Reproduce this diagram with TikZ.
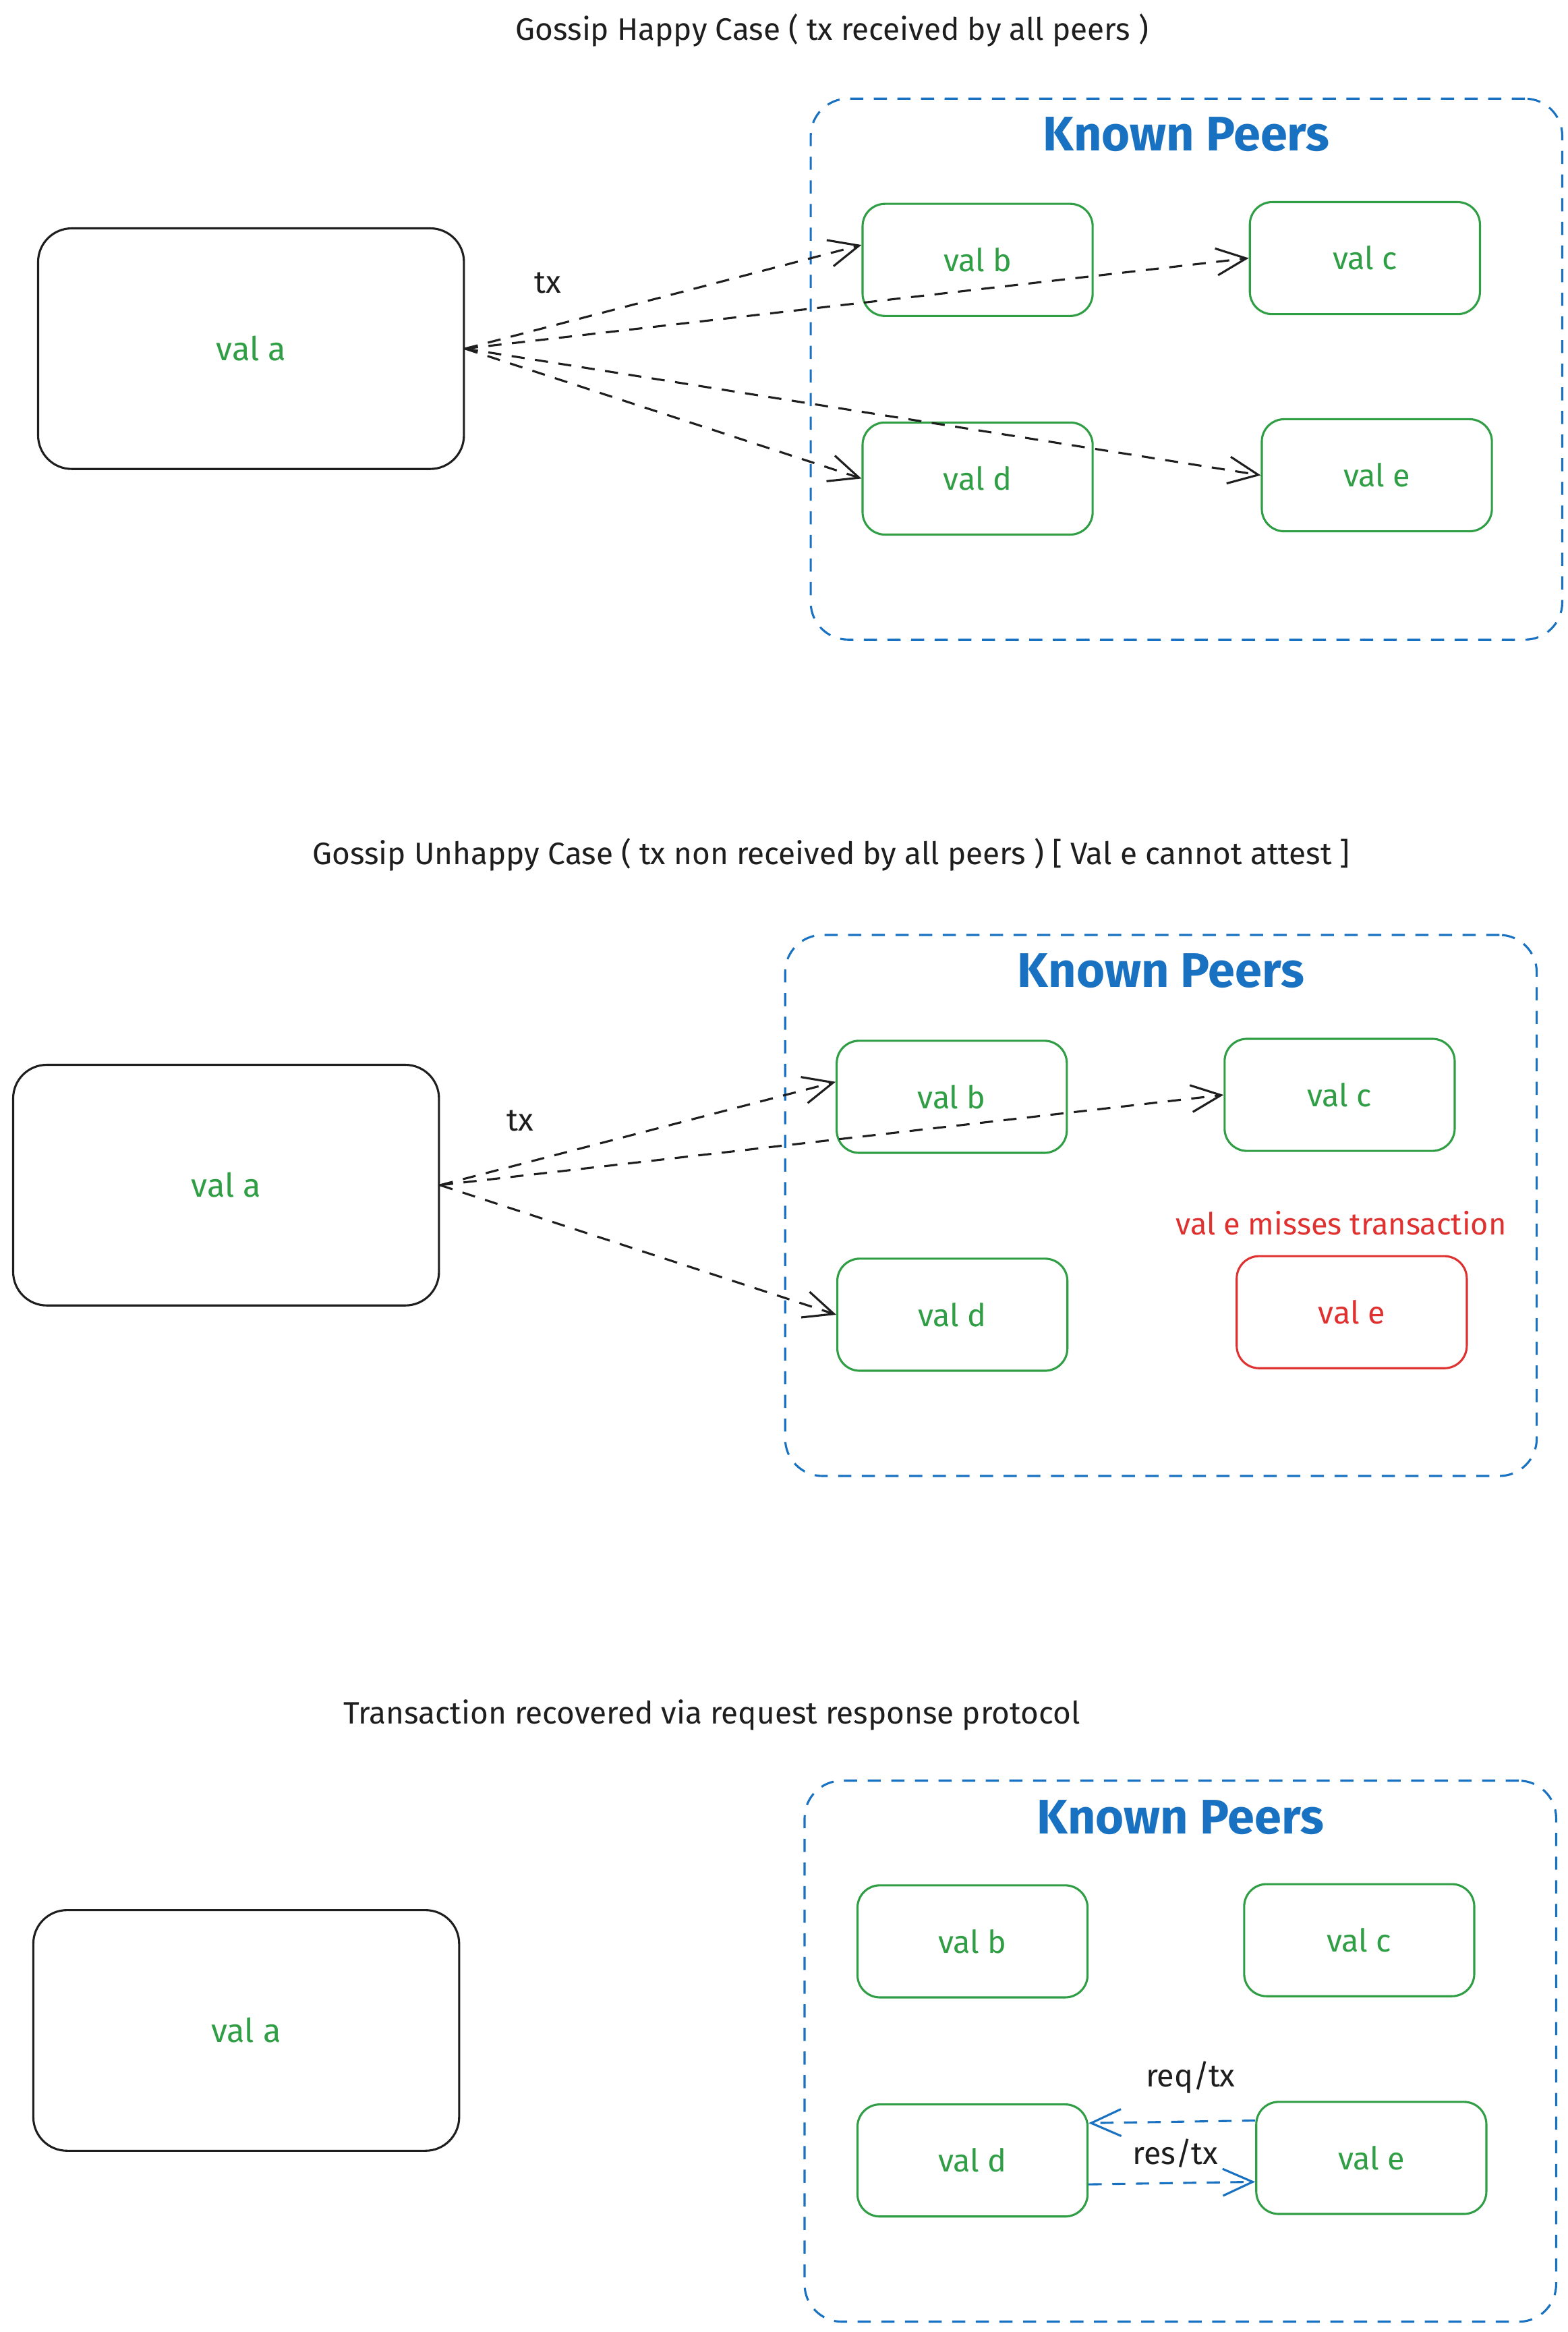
\documentclass[tikz,border=0pt]{standalone}
\usepackage{fontspec}
\setmainfont{Fira Sans}
\usetikzlibrary{arrows.meta}
\definecolor{peerblue}{HTML}{1971C2}
\definecolor{okgreen}{HTML}{2F9E44}
\definecolor{failred}{HTML}{E03131}
\definecolor{ink}{HTML}{1E1E1E}
\begin{document}
\begin{tikzpicture}[x=0.2mm,y=-0.2mm,
peer/.style={rectangle,draw,thick,rounded corners=3mm,color=okgreen,
minimum width=30.8mm,
minimum height=15mm,font=\fontsize{12}{14}\selectfont},
sender/.style={rectangle,draw=ink,thick,rounded corners=4.5mm,text=okgreen,
minimum width=57mm,
minimum height=32.2mm,font=\fontsize{12.5}{14}\selectfont},
group/.style={rectangle,draw=peerblue,thick,rounded corners=5mm,
dash pattern=on 5pt off 4pt,
minimum width=100.6mm,
minimum height=72.4mm},
heading/.style={text=ink,font=\fontsize{11.8}{14}\selectfont},
known/.style={text=peerblue,font=\bfseries\fontsize{18.5}{22}\selectfont},
msg/.style={text=ink,font=\fontsize{12}{14}\selectfont},
gossip/.style={draw=ink,thick,dash pattern=on 5pt off 4pt,
-{Straight Barb[length=4mm,width=3.6mm]}},
reply/.style={gossip,draw=peerblue}
]
\fill[white] (0,0) rectangle (1049,1560.4);

% caso feliz
\node[heading] (title1) at (557,20.3) {Gossip Happy Case ( tx received by all peers )};
\node[group] (known1) at (794.1,247) {};
\node[known] (kp1) at (794,89.7) {Known Peers};
\node[sender] (vala1) at (168,233.3) {val a};
\node[peer] (valb1) at (654.3,173.9) {val b};
\node[peer] (valc1) at (913.5,172.7) {val c};
\node[peer] (vald1) at (654.3,320.2) {val d};
\node[peer] (vale1) at (921.5,318) {val e};
\node[msg] (tx1) at (366.5,189.5) {tx};
\draw[gossip] (vala1.east) -- ([yshift=2mm]valb1.west);
\draw[gossip] (vala1.east) -- (valc1.west);
\draw[gossip] (vala1.east) -- (vald1.west);
\draw[gossip] (vala1.east) -- (vale1.west);

% caso infeliz
\node[heading] (title2) at (556.4,571.8) {Gossip Unhappy Case ( tx non received by all peers ) [ Val e cannot attest ]};
\node[group] (known2) at (777,806.6) {};
\node[known] (kp2) at (777,649.8) {Known Peers};
\node[sender] (vala2) at (151.3,793) {val a};
\node[peer] (valb2) at (637,733.9) {val b};
\node[peer] (valc2) at (896.6,732.6) {val c};
\node[peer] (vald2) at (637.4,879.7) {val d};
\node[peer,color=failred] (vale2) at (904.7,878) {val e};
\node[msg,text=failred,font=\fontsize{11.6}{13}\selectfont] (miss2) at (897.6,818.5) {val e misses transaction};
\node[msg] (tx2) at (348.3,750.1) {tx};
\draw[gossip] (vala2.east) -- ([yshift=2mm]valb2.west);
\draw[gossip] (vala2.east) -- (valc2.west);
\draw[gossip] (vala2.east) -- (vald2.west);
%\draw[gossip] (vala2.east) -- (vale2.west);

% recuperacao
\node[heading] (title3) at (476.4,1147.5) {Transaction recovered via request response protocol};
\node[group] (known3) at (790,1372.5) {};
\node[known] (kp3) at (790,1216) {Known Peers};
\node[sender] (vala3) at (164.8,1358.6) {val a};
\node[peer] (valb3) at (650.9,1299) {val b};
\node[peer] (valc3) at (909.7,1298.2) {val c};
\node[peer] (vald3) at (650.9,1445.6) {val d};
\node[peer] (vale3) at (917.8,1443.9) {val e};
\node[msg] (req3) at (796.8,1389.9) {req/tx};
\node[msg] (res3) at (786.7,1440.9) {res/tx};
\draw[reply] ([yshift=5mm]vale3.west) -- ([yshift=5mm]vald3.east);
\draw[reply] ([yshift=-3.2mm]vald3.east) -- ([yshift=-3.2mm]vale3.west);

\end{tikzpicture}
\end{document}
